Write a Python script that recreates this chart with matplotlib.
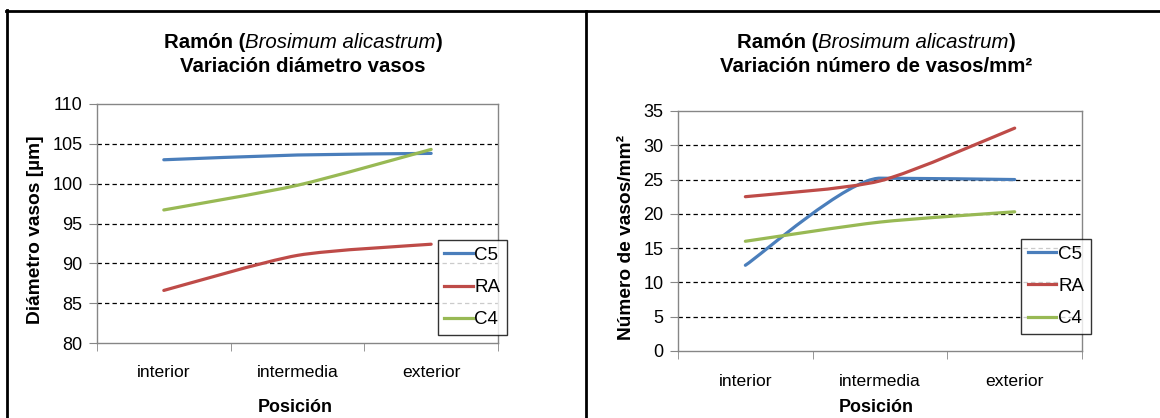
import matplotlib
matplotlib.use("Agg")
import matplotlib.pyplot as plt
from matplotlib.path import Path
from matplotlib.patches import PathPatch
from matplotlib.lines import Line2D

plt.rcParams['font.family'] = ['Liberation Sans', 'DejaVu Sans']

posiciones = ["interior", "intermedia", "exterior"]
series = ["C5", "RA", "C4"]
colores = ["#4A7EBB", "#BE4B48", "#98B954"]

diametro = {
    "C5": [103.0, 103.6, 103.8],
    "RA": [86.6, 91.0, 92.4],
    "C4": [96.7, 99.8, 104.3],
}
numero = {
    "C5": [12.5, 25.2, 25.0],
    "RA": [22.5, 24.8, 32.5],
    "C4": [16.0, 18.8, 20.3],
}


def linea_suave(ax, xs, ys, color, k=0.12):
    # curva tipo Excel "suavizada": Bezier cubica por tramos, sin sobrepasar extremos
    n = len(xs)
    tang = []
    for i in range(n):
        a = max(i - 1, 0)
        b = min(i + 1, n - 1)
        dx, dy = xs[b] - xs[a], ys[b] - ys[a]
        if 0 < i < n - 1:
            s1 = ys[i] - ys[i - 1]
            s2 = ys[i + 1] - ys[i]
            if s1 * s2 <= 0:
                dy = 0
        tang.append((dx, dy))
    verts = [(xs[0], ys[0])]
    codes = [Path.MOVETO]
    for i in range(n - 1):
        c1 = (xs[i] + k * tang[i][0], ys[i] + k * tang[i][1])
        c2 = (xs[i + 1] - k * tang[i + 1][0], ys[i + 1] - k * tang[i + 1][1])
        verts += [c1, c2, (xs[i + 1], ys[i + 1])]
        codes += [Path.CURVE4] * 3
    ax.add_patch(PathPatch(Path(verts, codes), fill=False, edgecolor=color,
                           lw=2.3, capstyle='round', joinstyle='round', zorder=3))


def panel(ax, datos, ymin, ymax, paso, ylabel, ley_y, xpad, lpad):
    xs = [0.5, 1.5, 2.5]
    for s, c in zip(series, colores):
        linea_suave(ax, xs, datos[s], c)
    ax.set_xlim(0, 3)
    ax.set_ylim(ymin, ymax)
    ax.set_yticks(range(ymin, ymax + 1, paso))
    ax.set_xticks(xs)
    ax.set_xticklabels(posiciones)
    ax.set_xticks([0, 1, 2, 3], minor=True)
    ax.tick_params(axis='x', which='major', length=0, pad=xpad, labelsize=12.6)
    ax.tick_params(axis='x', which='minor', length=6, direction='out', color='#868686')
    ax.tick_params(axis='y', length=6, direction='out', color='#868686', labelsize=13, pad=4.5)
    for v in range(ymin + paso, ymax, paso):
        ax.axhline(v, color='black', lw=0.9, ls=(0, (3.5, 2.5)), zorder=1)
    for sp in ax.spines.values():
        sp.set_color('#868686')
        sp.set_linewidth(1.0)
    ax.set_ylabel(ylabel, fontsize=13.8, fontweight='bold', labelpad=6)
    ax.yaxis.label.set_y(0.473)
    ax.set_xlabel("Posición", fontsize=12.9, fontweight='bold', labelpad=lpad)
    handles = [Line2D([], [], color=c, lw=2.3) for c in colores]
    leg = ax.legend(handles, series, loc='center left', bbox_to_anchor=(0.85, ley_y),
                    fontsize=13.5, frameon=True, fancybox=False, labelspacing=0.8,
                    handlelength=1.5, handletextpad=0.1, borderpad=0.35,
                    borderaxespad=0)
    leg.get_frame().set_edgecolor('black')
    leg.get_frame().set_linewidth(1.0)
    leg.set_zorder(5)


fig = plt.figure(figsize=(11.6, 4.18), dpi=100)
ax1 = fig.add_axes([0.0836, 0.1794, 0.3457, 0.5718])
ax2 = fig.add_axes([0.5845, 0.1603, 0.3483, 0.5742])

panel(ax1, diametro, 80, 110, 5, "Diámetro vasos [µm]", 0.232, 15.5, 14)
panel(ax2, numero, 0, 35, 5, "Número de vasos/mm²", 0.269, 16.5, 7)
ax1.xaxis.label.set_position((0.495, 0))
ax2.xaxis.label.set_position((0.49, 0))

W, H = 1160, 418


def titulo(cx, y1, y2, linea2):
    fig.canvas.draw()
    r = fig.canvas.get_renderer()
    partes = [("Ramón (", 'normal', 'bold'), ("Brosimum alicastrum", 'italic', 'normal'),
              (")", 'normal', 'bold')]
    textos = []
    for t, st, wt in partes:
        tx = fig.text(0, 1 - y1 / H, t, fontsize=14.7, fontstyle=st, fontweight=wt,
                      va='center', ha='left')
        textos.append(tx)
    anchos = [tx.get_window_extent(r).width for tx in textos]
    x = cx - sum(anchos) / 2
    for tx, w in zip(textos, anchos):
        tx.set_x(x / W)
        x += w
    fig.text(cx / W, 1 - y2 / H, linea2, fontsize=14.7, fontweight='bold', ha='center', va='center')


titulo(303, 42, 66, "Variación diámetro vasos")
titulo(876, 42, 67, "Variación número de vasos/mm²")

# marco de la figura
fig.add_artist(Line2D([7 / W, 7 / W], [0, 1 - 10 / H], color='black', lw=2))
fig.add_artist(Line2D([6 / W, 1], [1 - 11 / H, 1 - 11 / H], color='black', lw=2))
fig.add_artist(Line2D([586 / W, 586 / W], [0, 1 - 11 / H], color='black', lw=2))

fig.savefig("out.png", dpi=100)
